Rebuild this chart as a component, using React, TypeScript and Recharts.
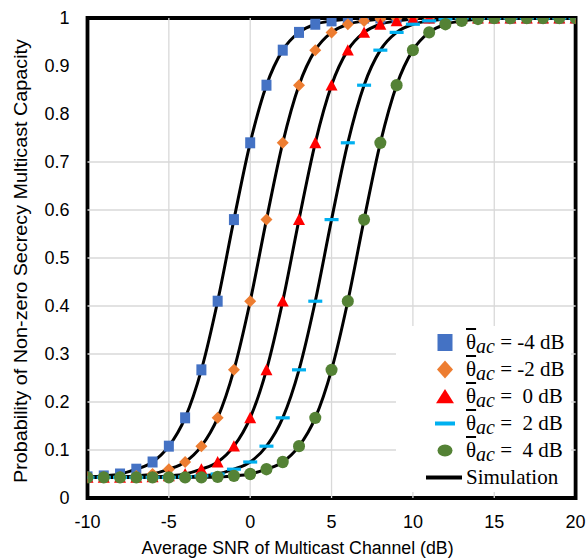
import React from 'react';
import {
  ComposedChart,
  Line,
  XAxis,
  YAxis,
  ReferenceLine,
  ReferenceArea,
  Legend,
  Label,
} from 'recharts';

// Average SNR of the multicast channel (dB)
const snrDb = [
  -10, -9, -8, -7, -6, -5, -4, -3, -2, -1, 0, 1, 2, 3, 4, 5, 6, 7, 8, 9, 10,
  11, 12, 13, 14, 15, 16, 17, 18, 19, 20,
];

// Probability of non-zero secrecy multicast capacity, one list per average eavesdropper SNR
const thetaMinus4 = [
  0.044, 0.046, 0.05, 0.06, 0.075, 0.108, 0.167, 0.267, 0.41, 0.58, 0.74, 0.86,
  0.933, 0.97, 0.987, 0.994, 0.998, 1, 1, 1, 1, 1, 1, 1, 1, 1, 1, 1, 1, 1, 1,
];
const thetaMinus2 = [
  0.043, 0.043, 0.044, 0.046, 0.05, 0.06, 0.075, 0.108, 0.167, 0.267, 0.41,
  0.58, 0.74, 0.86, 0.933, 0.97, 0.987, 0.994, 0.998, 1, 1, 1, 1, 1, 1, 1, 1, 1,
  1, 1, 1,
];
const theta0 = [
  0.043, 0.043, 0.043, 0.043, 0.044, 0.046, 0.05, 0.06, 0.075, 0.108, 0.167,
  0.267, 0.41, 0.58, 0.74, 0.86, 0.933, 0.97, 0.987, 0.994, 0.998, 1, 1, 1, 1,
  1, 1, 1, 1, 1, 1,
];
const theta2 = [
  0.043, 0.043, 0.043, 0.043, 0.043, 0.043, 0.044, 0.046, 0.05, 0.06, 0.075,
  0.108, 0.167, 0.267, 0.41, 0.58, 0.74, 0.86, 0.933, 0.97, 0.987, 0.994,
  0.998, 1, 1, 1, 1, 1, 1, 1, 1,
];
const theta4 = [
  0.043, 0.043, 0.043, 0.043, 0.043, 0.043, 0.043, 0.043, 0.044, 0.046, 0.05,
  0.06, 0.075, 0.108, 0.167, 0.267, 0.41, 0.58, 0.74, 0.86, 0.933, 0.97, 0.987,
  0.994, 0.998, 1, 1, 1, 1, 1, 1,
];

const xTicks = [-10, -5, 0, 5, 10, 15, 20];
const yTicks = [0, 0.1, 0.2, 0.3, 0.4, 0.5, 0.6, 0.7, 0.8, 0.9, 1];
const yTickLabels = ['0', '0.1', '0.2', '0.3', '0.4', '0.5', '0.6', '0.7', '0.8', '0.9', '1'];
const gridX = [-5, 0, 5, 10, 15];
const gridY = [0.1, 0.2, 0.3, 0.4, 0.5, 0.6, 0.7];

const legendValues = ['-4 dB', '-2 dB', ' 0 dB', ' 2 dB', ' 4 dB'];
const simulationLabel = 'Simulation';

type Shape = 'square' | 'diamond' | 'triangle' | 'dash' | 'circle';

const series: { key: string; values: number[]; color: string; shape: Shape; label: string }[] = [
  { key: 'tm4', values: thetaMinus4, color: '#4472C4', shape: 'square', label: legendValues[0] },
  { key: 'tm2', values: thetaMinus2, color: '#ED7D31', shape: 'diamond', label: legendValues[1] },
  { key: 't0', values: theta0, color: '#FF0000', shape: 'triangle', label: legendValues[2] },
  { key: 't2', values: theta2, color: '#00B0F0', shape: 'dash', label: legendValues[3] },
  { key: 't4', values: theta4, color: '#548235', shape: 'circle', label: legendValues[4] },
];

const rows = snrDb.map((snr, i) => {
  const row: Record<string, number> = { snr };
  series.forEach((s) => {
    row[s.key] = s.values[i];
  });
  return row;
});

// Plot markers (small) and legend icons (larger, slightly flattened circle)
const drawShape = (shape: Shape, color: string, cx: number, cy: number, big: boolean) => {
  switch (shape) {
    case 'square': {
      const w = big ? 15 : 10;
      const h = big ? 17 : 11;
      return <rect x={cx - w / 2} y={cy - h / 2} width={w} height={h} fill={color} />;
    }
    case 'diamond': {
      const w = big ? 8 : 6;
      const h = big ? 9 : 6;
      return (
        <polygon
          points={`${cx},${cy - h} ${cx + w},${cy} ${cx},${cy + h} ${cx - w},${cy}`}
          fill={color}
        />
      );
    }
    case 'triangle': {
      const w = big ? 9 : 6;
      const h = big ? 7.5 : 6;
      return (
        <polygon
          points={`${cx},${cy - h} ${cx + w},${cy + h * 0.9} ${cx - w},${cy + h * 0.9}`}
          fill={color}
        />
      );
    }
    case 'dash': {
      const w = big ? 20 : 14;
      const h = big ? 4 : 3.2;
      return <rect x={cx - w / 2} y={cy - h / 2} width={w} height={h} fill={color} />;
    }
    case 'circle':
    default:
      return (
        <ellipse cx={cx} cy={cy} rx={big ? 7.5 : 6} ry={big ? 6 : 6.2} fill={color} />
      );
  }
};

const markerDot = (shape: Shape, color: string) => (props: any) => {
  const { cx, cy, index } = props;
  if (cx == null || cy == null) return <g key={`d-${index}`} />;
  return <g key={`d-${shape}-${index}`}>{drawShape(shape, color, cx, cy, false)}</g>;
};

const LegendBox = () => {
  const rowStyle: React.CSSProperties = {
    display: 'flex',
    alignItems: 'center',
    height: 27,
  };
  const iconBox = (child: React.ReactNode) => (
    <svg width={40} height={27} style={{ flex: 'none' }}>
      {child}
    </svg>
  );
  return (
    <div
      style={{
        width: 175,
        height: 166,
        background: '#ffffff',
        paddingTop: 3,
        boxSizing: 'border-box',
        fontFamily: '"Liberation Serif", "Times New Roman", serif',
        fontSize: 21,
        color: '#000',
        paddingLeft: 29,
      }}
    >
      {series.map((s) => (
        <div key={s.key} style={rowStyle}>
          {iconBox(drawShape(s.shape, s.color, 20, 13.5, true))}
          <span style={{ whiteSpace: 'pre', marginLeft: 1, lineHeight: '27px' }}>
            <span style={{ textDecoration: 'overline' }}>θ</span>
            <i style={{ fontSize: '0.95em', position: 'relative', top: '0.18em' }}>ac</i>
            {' = ' + s.label}
          </span>
        </div>
      ))}
      <div style={rowStyle}>
        {iconBox(<rect x={1} y={11.5} width={36} height={4} fill="#000" />)}
        <span style={{ marginLeft: 1, lineHeight: '27px' }}>{simulationLabel}</span>
      </div>
    </div>
  );
};

const tickStyle = { fill: '#000', fontSize: 18, fontFamily: '"Liberation Sans", Arial, sans-serif' };

export default function App() {
  return (
    <div style={{ position: 'absolute', left: 0, top: 0, background: '#fff' }}>
      <ComposedChart
        width={586}
        height={559}
        data={rows}
        margin={{ top: 18, right: 10.4, bottom: 0, left: 0 }}
      >
        <XAxis
          type="number"
          dataKey="snr"
          domain={[-10, 20]}
          ticks={xTicks}
          allowDataOverflow
          tickLine={false}
          axisLine={false}
          tickSize={0}
          tickMargin={17}
          height={61}
          tick={tickStyle}
        >
          <Label
            content={(props: any) => {
              const vb = props.viewBox || { x: 87.5, y: 498, width: 488 };
              return (
                <text
                  x={vb.x + vb.width / 2 - 34}
                  y={vb.y + 56}
                  textAnchor="middle"
                  fontSize={18}
                  textLength={312}
                  lengthAdjust="spacingAndGlyphs"
                  fontFamily='"Liberation Sans", Arial, sans-serif'
                  fill="#000"
                >
                  Average SNR of Multicast Channel (dB)
                </text>
              );
            }}
          />
        </XAxis>
        <YAxis
          type="number"
          domain={[0, 1]}
          ticks={yTicks}
          tickFormatter={(v: number) => yTickLabels[yTicks.indexOf(v)] ?? String(v)}
          allowDataOverflow
          tickLine={false}
          axisLine={false}
          tickSize={0}
          tickMargin={18}
          width={87.5}
          tick={tickStyle}
        >
          <Label
            content={(props: any) => {
              const vb = props.viewBox || { x: 0, y: 18, height: 480 };
              const x = vb.x + 27;
              const y = vb.y + vb.height / 2 + 3;
              return (
                <text
                  x={x}
                  y={y}
                  transform={`rotate(-90, ${x}, ${y})`}
                  textAnchor="middle"
                  fontSize={18}
                  textLength={444}
                  lengthAdjust="spacingAndGlyphs"
                  fontFamily='"Liberation Sans", Arial, sans-serif'
                  fill="#000"
                >
                  Probability of Non-zero Secrecy Multicast Capacity
                </text>
              );
            }}
          />
        </YAxis>

        {gridX.map((v) => (
          <ReferenceLine key={`gx${v}`} x={v} stroke="#d9d9d9" strokeWidth={1.3} />
        ))}
        {gridY.map((v) => (
          <ReferenceLine key={`gy${v}`} y={v} stroke="#d9d9d9" strokeWidth={1.3} />
        ))}
        <ReferenceArea
          x1={-10}
          x2={20}
          y1={0}
          y2={1}
          fill="none"
          fillOpacity={0}
          stroke="#000"
          strokeWidth={3.8}
          ifOverflow="visible"
        />

        {/* simulation curves */}
        {series.map((s) => (
          <Line
            key={`sim-${s.key}`}
            type="monotone"
            dataKey={s.key}
            stroke="#000"
            strokeWidth={3}
            dot={false}
            activeDot={false}
            legendType="none"
            isAnimationActive={false}
          />
        ))}

        {/* analytical markers */}
        {series.map((s) => (
          <Line
            key={`mk-${s.key}`}
            type="linear"
            dataKey={s.key}
            stroke="none"
            dot={markerDot(s.shape, s.color)}
            activeDot={false}
            legendType="none"
            isAnimationActive={false}
          />
        ))}

        <Legend
          layout="vertical"
          align="center"
          verticalAlign="middle"
          content={() => <LegendBox />}
          wrapperStyle={{ left: 396, top: 326, width: 175, height: 166, margin: 0 }}
        />
      </ComposedChart>
    </div>
  );
}
